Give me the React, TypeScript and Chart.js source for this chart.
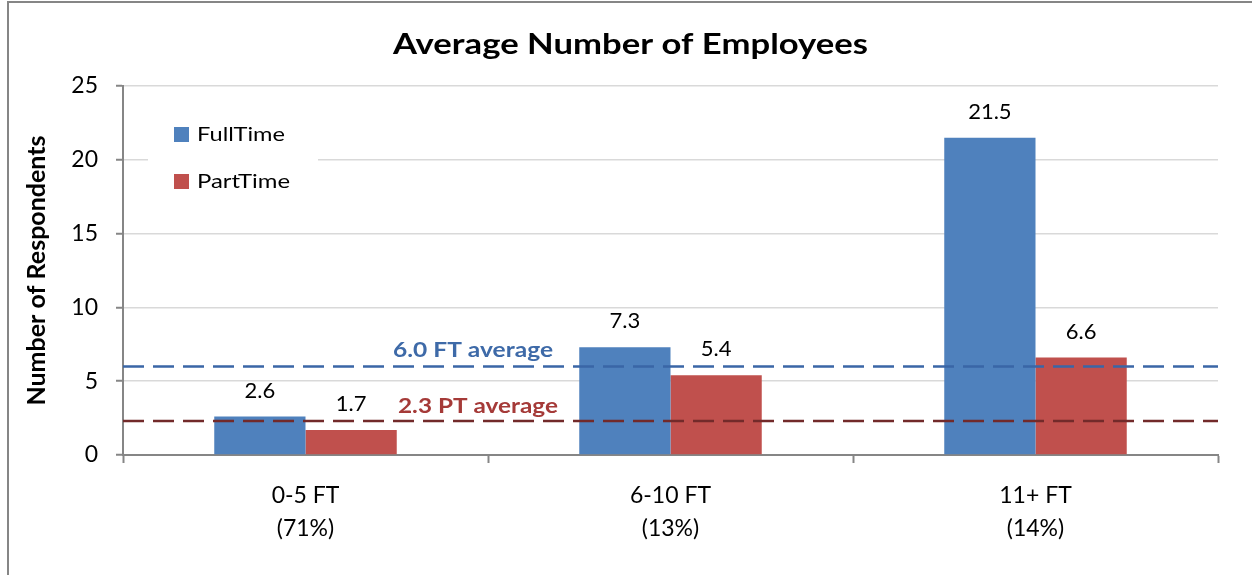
import React, { useEffect, useRef } from "react";
import { Chart, registerables } from "chart.js";

Chart.register(...registerables);

const categories: string[][] = [["0-5 FT", "(71%)"], ["6-10 FT", "(13%)"], ["11+ FT", "(14%)"]];
const seriesNames = ["FullTime", "PartTime"];
const fullTime = [2.6, 7.3, 21.5];
const partTime = [1.7, 5.4, 6.6];
const ftAverage = 6.0;
const ptAverage = 2.3;
const yMin = 0;
const yMax = 25;
const yStep = 5;
const chartTitle = "Average Number of Employees";
const yAxisTitle = "Number of Respondents";

const FONT = "Lato, 'Open Sans', sans-serif";
const BLUE = "#4f81bd";
const RED = "#c0504d";
const AXIS = "#868686";

function drawStretched(ctx: any, text: string, x: number, y: number, targetW: number, align: string) {
  const w = ctx.measureText(text).width || 1;
  const sx = targetW / w;
  ctx.save();
  ctx.translate(x, y);
  ctx.scale(sx, 1);
  ctx.textAlign = align;
  ctx.fillText(text, 0, 0);
  ctx.restore();
}

const titlePlugin = {
  id: "titleText",
  afterDraw(chart: any) {
    const { ctx } = chart;
    ctx.save();
    ctx.font = `bold 28px ${FONT}`;
    ctx.fillStyle = "#000";
    ctx.textBaseline = "alphabetic";
    drawStretched(ctx, chartTitle, 630.5, 54, 475, "center");
    ctx.restore();
  },
};

const legendWidths = [88, 93];

const legendPlugin = {
  id: "insideLegend",
  beforeDatasetsDraw(chart: any) {
    const { ctx, chartArea } = chart;
    const x0 = chartArea.left + 25;
    ctx.save();
    ctx.fillStyle = "#fff";
    ctx.fillRect(x0, chartArea.top + 20, 170, 100);
    chart.data.datasets.forEach((ds: any, i: number) => {
      const cy = chartArea.top + 48 + i * 47;
      ctx.fillStyle = ds.backgroundColor;
      ctx.fillRect(x0 + 26, cy - 7, 15, 15);
      ctx.fillStyle = "#000";
      ctx.font = `20px ${FONT}`;
      ctx.textBaseline = "alphabetic";
      drawStretched(ctx, ds.label, x0 + 49, cy + 7, legendWidths[i], "left");
    });
    ctx.restore();
  },
};

const labelsPlugin = {
  id: "valueLabels",
  afterDatasetsDraw(chart: any) {
    const { ctx } = chart;
    ctx.save();
    ctx.font = `22px ${FONT}`;
    ctx.fillStyle = "#000";
    ctx.textAlign = "center";
    ctx.textBaseline = "alphabetic";
    chart.data.datasets.forEach((ds: any, di: number) => {
      const meta = chart.getDatasetMeta(di);
      meta.data.forEach((el: any, i: number) => {
        ctx.fillText(Number(ds.data[i]).toFixed(1), el.x, el.y - 19);
      });
    });
    ctx.restore();
  },
};

const averagePlugin = {
  id: "averages",
  afterDatasetsDraw(chart: any) {
    const { ctx, chartArea, scales } = chart;
    const lines = [
      { v: ftAverage, line: "#3a66a6", text: "#3e6aa8", label: `${ftAverage.toFixed(1)} FT average`, right: chartArea.left + 430, off: 9 },
      { v: ptAverage, line: "#722a2a", text: "#a53a38", label: `${ptAverage.toFixed(1)} PT average`, right: chartArea.left + 435, off: 8 },
    ];
    ctx.save();
    lines.forEach((l) => {
      const y = scales.y.getPixelForValue(l.v);
      ctx.strokeStyle = l.line;
      ctx.lineWidth = 2.5;
      ctx.setLineDash([21, 9]);
      ctx.beginPath();
      ctx.moveTo(chartArea.left, y);
      ctx.lineTo(chartArea.right, y);
      ctx.stroke();
      ctx.setLineDash([]);
      ctx.fillStyle = l.text;
      ctx.font = `bold 21px ${FONT}`;
      ctx.textBaseline = "alphabetic";
      drawStretched(ctx, l.label, l.right, y - l.off, 160, "right");
    });
    ctx.restore();
  },
};

export default function App() {
  const ref = useRef<HTMLCanvasElement | null>(null);
  useEffect(() => {
    if (!ref.current) return;
    const chart = new Chart(ref.current, {
      type: "bar",
      data: {
        labels: categories,
        datasets: [
          { label: seriesNames[0], data: fullTime, backgroundColor: BLUE, categoryPercentage: 0.5, barPercentage: 1.0 },
          { label: seriesNames[1], data: partTime, backgroundColor: RED, categoryPercentage: 0.5, barPercentage: 1.0 },
        ],
      },
      options: {
        responsive: false,
        animation: false,
        devicePixelRatio: 1,
        layout: { padding: { top: 86, right: 34, left: 0, bottom: 0 } },
        plugins: { legend: { display: false }, tooltip: { enabled: false }, title: { display: false } },
        scales: {
          x: {
            afterFit: (s: any) => { s.height = 120; },
            grid: { display: true, drawOnChartArea: false, drawTicks: true, tickLength: 8, tickColor: AXIS, tickWidth: 2, offset: true },
            border: { display: true, color: AXIS, width: 2 },
            ticks: { color: "#000", font: { family: FONT, size: 23, lineHeight: 1.435 }, padding: 16, maxRotation: 0 },
          },
          y: {
            min: yMin,
            max: yMax,
            afterFit: (s: any) => { s.width = 123; },
            ticks: { stepSize: yStep, color: "#000", font: { family: FONT, size: 23 }, padding: 18 },
            grid: {
              color: (c: any) => (c.tick && c.tick.value === 0 ? "rgba(0,0,0,0)" : "#d9d9d9"),
              lineWidth: 1.5,
              tickLength: 7,
              tickColor: AXIS,
              tickWidth: 2,
            },
            border: { display: true, color: AXIS, width: 2 },
            title: { display: true, text: yAxisTitle, color: "#000", font: { family: FONT, size: 25, weight: "bold" }, padding: { top: 22, bottom: 0 } },
          },
        },
      },
      plugins: [legendPlugin, averagePlugin, labelsPlugin, titlePlugin],
    } as any);
    return () => chart.destroy();
  }, []);
  return (
    <div style={{ position: "fixed", left: 0, top: 0, width: 1252, height: 575, background: "#fff", overflow: "hidden" }}>
      <canvas ref={ref} width={1252} height={575} style={{ position: "absolute", left: 0, top: 0 }} />
      <div style={{ position: "absolute", left: 7, top: 1, width: 1300, height: 700, borderLeft: `2px solid ${AXIS}`, borderTop: `2px solid ${AXIS}`, pointerEvents: "none" }} />
    </div>
  );
}
